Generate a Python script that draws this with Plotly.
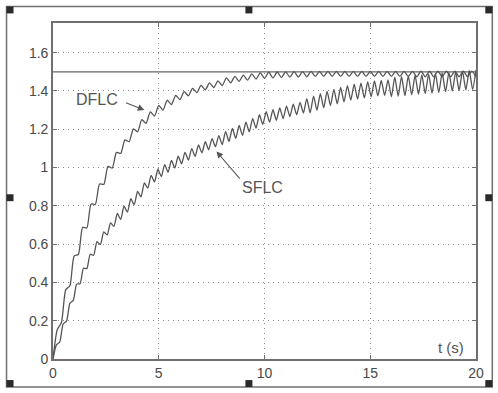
import plotly.graph_objects as go

# ---------------- data ----------------
t_dflc = [round(0.2 * k, 2) for k in range(101)]
y_dflc = [
    0.000, 0.153, 0.191, 0.361, 0.383, 0.538, 0.546, 0.688, 0.684, 0.810,
    0.807, 0.914, 0.912, 1.006, 0.997, 1.079, 1.074, 1.145, 1.135, 1.202,
    1.187, 1.250, 1.231, 1.291, 1.269, 1.325, 1.300, 1.352, 1.329, 1.377,
    1.355, 1.396, 1.375, 1.414, 1.392, 1.429, 1.406, 1.442, 1.418, 1.453,
    1.428, 1.468, 1.442, 1.476, 1.450, 1.483, 1.457, 1.489, 1.462, 1.494,
    1.466, 1.498, 1.468, 1.499, 1.470, 1.500, 1.472, 1.501, 1.473, 1.501,
    1.474, 1.502, 1.476, 1.502, 1.476, 1.502, 1.476, 1.502, 1.476, 1.502,
    1.476, 1.502, 1.476, 1.502, 1.476, 1.502, 1.476, 1.502, 1.476, 1.502,
    1.476, 1.502, 1.476, 1.502, 1.476, 1.502, 1.474, 1.504, 1.474, 1.504,
    1.474, 1.504, 1.474, 1.504, 1.474, 1.504, 1.474, 1.504, 1.474, 1.504,
    1.474,
]

t_sflc = [round(0.16 * k, 2) for k in range(126)]
y_sflc = [
    0.000, 0.074, 0.089, 0.183, 0.198, 0.292, 0.306, 0.391, 0.393, 0.474,
    0.472, 0.547, 0.542, 0.613, 0.598, 0.664, 0.648, 0.711, 0.693, 0.760,
    0.729, 0.798, 0.767, 0.837, 0.806, 0.875, 0.847, 0.920, 0.892, 0.959,
    0.925, 0.991, 0.953, 1.015, 0.976, 1.037, 0.998, 1.059, 1.020, 1.079,
    1.039, 1.099, 1.058, 1.118, 1.077, 1.135, 1.093, 1.151, 1.109, 1.167,
    1.120, 1.188, 1.136, 1.204, 1.152, 1.220, 1.168, 1.237, 1.187, 1.256,
    1.206, 1.276, 1.225, 1.292, 1.237, 1.302, 1.247, 1.312, 1.256, 1.321,
    1.266, 1.331, 1.276, 1.340, 1.285, 1.360, 1.286, 1.373, 1.299, 1.386,
    1.312, 1.398, 1.324, 1.408, 1.333, 1.418, 1.343, 1.428, 1.352, 1.435,
    1.358, 1.441, 1.364, 1.448, 1.370, 1.452, 1.374, 1.455, 1.377, 1.458,
    1.370, 1.472, 1.373, 1.475, 1.376, 1.478, 1.380, 1.481, 1.383, 1.484,
    1.386, 1.488, 1.389, 1.491, 1.392, 1.494, 1.396, 1.497, 1.399, 1.500,
    1.402, 1.504, 1.405, 1.507, 1.408, 1.510,
]

t_ref = [0, 20]
y_ref = [1.5, 1.5]

x_tickvals = [0, 5, 10, 15, 20]
x_ticktext = ["0", "5", "10", "15", "20"]
y_tickvals = [0, 0.2, 0.4, 0.6, 0.8, 1.0, 1.2, 1.4, 1.6]
y_ticktext = ["0", "0.2", "0.4", "0.6", "0.8", "1", "1.2", "1.4", "1.6"]

labels = ["DFLC", "SFLC"]

# ---------------- figure ----------------
W, H = 498, 393
ML, MR, MT, MB = 52.5, 22.3, 22.7, 30.3
PW, PH = W - ML - MR, H - MT - MB


def px(x):
    return (x - ML) / PW


def py(y):
    return (H - MB - y) / PH


line_col = "#555555"
fig = go.Figure()
fig.add_trace(go.Scatter(x=t_ref, y=y_ref, mode="lines",
                         line=dict(color="#666666", width=1.3), hoverinfo="skip"))
fig.add_trace(go.Scatter(x=t_dflc, y=y_dflc, mode="lines", name=labels[0],
                         line=dict(color=line_col, width=1.3, shape="spline", smoothing=0.6)))
fig.add_trace(go.Scatter(x=t_sflc, y=y_sflc, mode="lines", name=labels[1],
                         line=dict(color=line_col, width=1.3, shape="spline", smoothing=0.6)))

axis_common = dict(
    showline=True, mirror="ticks", linecolor="#707070", linewidth=1.6,
    ticks="inside", ticklen=4, tickcolor="#707070", tickwidth=1,
    showgrid=True, gridcolor="#8a8a8a", griddash="1px,4px", gridwidth=1,
    zeroline=False, tickfont=dict(size=14, color="#4a4a4a",
                                  family="Liberation Sans, Arial, sans-serif"),
)
fig.update_xaxes(range=[0, 20], tickvals=x_tickvals, ticktext=x_ticktext, **axis_common)
fig.update_yaxes(range=[0, 1.755], tickvals=y_tickvals, ticktext=y_ticktext, **axis_common)

font_ann = dict(size=16, color="#555555", family="Liberation Sans, Arial, sans-serif")
fig.add_annotation(x=2.08, y=1.356, text=labels[0], showarrow=False, font=font_ann)
fig.add_annotation(x=4.32, y=1.30, ax=3.38, ay=1.342, axref="x", ayref="y",
                   text="", showarrow=True, arrowhead=2, arrowsize=1.2,
                   arrowwidth=1.1, arrowcolor="#555555")
fig.add_annotation(x=9.89, y=0.897, text=labels[1], showarrow=False, font=font_ann)
fig.add_annotation(x=7.73, y=1.084, ax=8.89, ay=0.934, axref="x", ayref="y",
                   text="", showarrow=True, arrowhead=2, arrowsize=1.2,
                   arrowwidth=1.1, arrowcolor="#555555")
fig.add_annotation(x=18.83, y=0.058, text="t (s)", showarrow=False,
                   font=dict(size=15, color="#555555",
                             family="Liberation Sans, Arial, sans-serif"))

# outer frame with selection handles
shapes = [dict(type="rect", xref="paper", yref="paper",
               x0=px(6), x1=px(492), y0=py(391), y1=py(6),
               line=dict(color="#707070", width=1.5), layer="below")]
hs = 7
for (hx, hy) in [(6, 6), (245, 6), (485, 6), (6, 196), (485, 196),
                 (6, 384), (245, 384), (485, 384)]:
    shapes.append(dict(type="rect", xref="paper", yref="paper",
                       x0=px(hx), x1=px(hx + hs), y0=py(hy + hs), y1=py(hy),
                       line=dict(width=0), fillcolor="#2a2a2a"))

fig.update_layout(
    width=W, height=H, autosize=False,
    margin=dict(l=ML, r=MR, t=MT, b=MB, pad=0),
    paper_bgcolor="white", plot_bgcolor="white",
    showlegend=False, shapes=shapes,
    font=dict(family="Liberation Sans, Arial, sans-serif"),
)

fig.write_html("out.html")
